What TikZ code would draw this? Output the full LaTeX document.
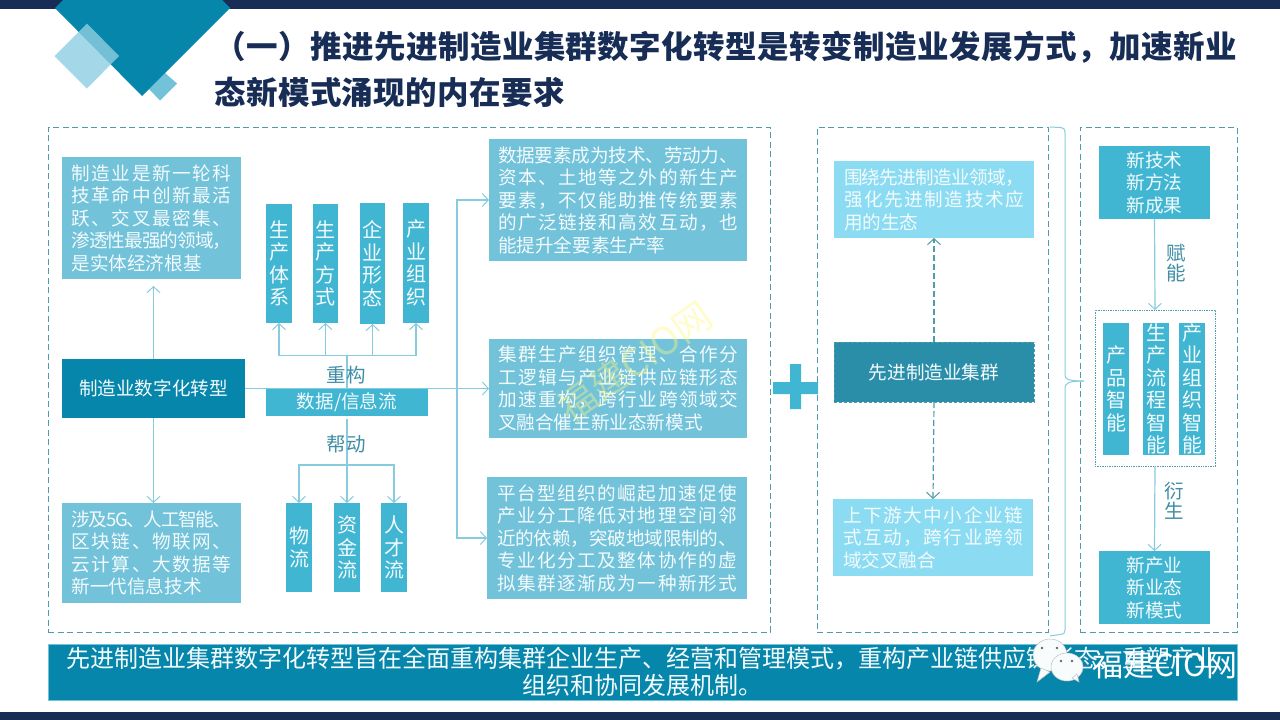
\documentclass[tikz,border=0pt]{standalone}
\usepackage{fontspec}
\setmainfont{Noto Sans CJK SC}
\usetikzlibrary{arrows.meta}
\definecolor{navy}{HTML}{172D55}
\definecolor{deep}{HTML}{0786AB}
\definecolor{soft}{HTML}{72C2DA}
\definecolor{mid}{HTML}{41B6D2}
\definecolor{pale}{HTML}{8BDCF2}
\definecolor{teal}{HTML}{2B8EA9}
\definecolor{wire}{HTML}{86CCDE}
\definecolor{dashc}{HTML}{4F9DAB}
\definecolor{lab}{HTML}{3F8EA5}
\definecolor{ink}{HTML}{F3FBFD}
\makeatletter
\def\jlx#1#2{#1\ifx#2\relax\expandafter\@gobble\else\hskip 0pt plus 1fil minus 1fil\expandafter\jlx\fi#2}
\makeatother
\newcommand\jl[2]{\hbox to #1pt{\jlx#2\relax}}
\newcommand\bx[7]{\pgfmathsetmacro\bw{#4-#2}\pgfmathsetmacro\bh{#5-#3}\pgfmathsetmacro\cx{(#2+#4)/2}\pgfmathsetmacro\cy{(#3+#5)/2}\node[#6,minimum width=\bw pt,minimum height=\bh pt] (#1) at (\cx,\cy) {#7};}
\tikzset{
 box/.style={inner sep=0pt,outer sep=0pt,align=left,text=ink,font=\fontsize{18.6}{22.5}\selectfont},
 softbox/.style={box,fill=soft},
 deepbox/.style={box,fill=deep,align=center},
 midbox/.style={box,fill=mid,align=center},
 tallbox/.style={midbox,font=\fontsize{20}{22.5}\selectfont},
 palebox/.style={box,fill=pale},
 frame/.style={box,draw=dashc,line width=1pt,dash pattern=on 6pt off 3.5pt},
 link/.style={draw=wire,line width=1.2pt},
 arrow/.style={link,-{Straight Barb[length=6pt,width=13pt,line width=1pt]}},
 dlink/.style={draw=dashc,line width=1.2pt,dash pattern=on 6pt off 3pt},
 darrow/.style={dlink,-{Straight Barb[length=6pt,width=13pt,line width=1pt]}},
 lbl/.style={inner sep=0pt,text=lab,align=center,font=\fontsize{19.5}{20.5}\selectfont},
}
\begin{document}
\begin{tikzpicture}[x=1pt,y=-1pt]
\useasboundingbox (0,0) rectangle (1280,720);
\fill[white] (0,0) rectangle (1280,720);
% bars and corner decoration
\fill[navy] (0,0) rectangle (1280,8.5);
\fill[navy] (0,711.5) rectangle (1280,720);
\fill[soft] (149,89)--(165,73)--(177,83.5)--(160,100.5)--cycle;
\fill[deep] (63,0)--(55,8)--(142,96)--(230,8)--(222,0)--cycle;
\fill[soft!80!white,fill opacity=.8] (54.5,56)--(87,23.5)--(119,56)--(87,88.5)--cycle;
% title
\node[anchor=west,inner sep=0pt,text=navy,font=\fontsize{31.5}{38}\bfseries\selectfont] (t1) at (214,47) {\jl{1023}{（一）推进先进制造业集群数字化转型是转变制造业发展方式，加速新业}};
\node[anchor=west,inner sep=0pt,text=navy,font=\fontsize{31.5}{38}\bfseries\selectfont] (t2) at (214,92) {\jl{351}{态新模式涌现的内在要求}};
% frames
\bx{fL}{48}{127}{770}{632}{frame}{}
\bx{fM}{817}{127}{1048}{632}{frame}{}
\bx{fR}{1080}{127}{1237}{632}{frame}{}
% left column
\bx{A}{62}{157}{241}{279}{softbox}{\jl{160}{制造业是新一轮科}\\\jl{160}{技革命中创新最活}\\\jl{160}{跃、交叉最密集、}\\\jl{160}{渗透性最强的领域，}\\是实体经济根基}
\bx{B}{62}{359}{245}{418}{deepbox}{制造业数字化转型}
\bx{C}{62}{503}{241}{603}{softbox}{\jl{160}{涉及5G、人工智能、}\\\jl{160}{区块链、物联网、}\\\jl{160}{云计算、大数据等}\\新一代信息技术}
% upper vertical boxes
\bx{v1}{266}{204}{292}{323}{tallbox}{生\\产\\体\\系}
\bx{v2}{313}{204}{338}{323}{tallbox}{生\\产\\方\\式}
\bx{v3}{360}{203}{385}{324}{tallbox}{企\\业\\形\\态}
\bx{v4}{403}{203}{429}{323}{tallbox}{产\\业\\组\\织}
% lower vertical boxes
\bx{f1}{286}{503}{312}{592}{tallbox}{物\\流}
\bx{f2}{334}{503}{360}{592}{tallbox}{资\\金\\流}
\bx{f3}{381}{503}{407}{592}{tallbox}{人\\才\\流}
% right column of left frame
\bx{R1}{489}{139}{747}{261}{softbox}{\jl{240}{数据要素成为技术、劳动力、}\\\jl{240}{资本、土地等之外的新生产}\\\jl{240}{要素，不仅能助推传统要素}\\\jl{240}{的广泛链接和高效互动，也}\\能提升全要素生产率}
\bx{R2}{489}{339}{747}{438}{softbox}{\jl{240}{集群生产组织管理、合作分}\\\jl{240}{工逻辑与产业链供应链形态}\\\jl{240}{加速重构，跨行业跨领域交}\\叉融合催生新业态新模式}
\bx{R3}{487}{477}{747}{599}{softbox}{\jl{240}{平台型组织的崛起加速促使}\\\jl{240}{产业分工降低对地理空间邻}\\\jl{240}{近的依赖，突破地域限制的、}\\\jl{240}{专业化分工及整体协作的虚}\\\jl{240}{拟集群逐渐成为一种新形式}}
% connectors left frame
\draw[arrow,shorten >=7pt] (B.north) -- (B.north |- A.south);
\draw[arrow] (B.south) -- (B.south |- C.north);
\coordinate (bus) at (347,355.5);
\coordinate (bus2) at (347,465);
\coordinate (trunk) at (457,388.5);
\coordinate (stemtop) at (347,389);
\coordinate (stembot) at (347,419);
\draw[link] (stemtop) -- (bus);
\draw[arrow] (bus) -| (v1.south);
\draw[arrow] (bus) -| (v2.south);
\draw[arrow] (bus) -| (v3.south);
\draw[arrow] (bus) -| (v4.south);
\draw[arrow] (B.east) -- (R2.west);
\draw[arrow] (trunk) |- (R1.west);
\draw[arrow] (trunk) |- (R3.west);
\draw[arrow] (stembot) -- (stembot |- f2.north);
\draw[arrow] (bus2) -| (f1.north);
\draw[arrow] (bus2) -| (f3.north);
\bx{data}{266}{389}{428}{416}{midbox}{数据/信息流}
\node[lbl] (lb1) at (346,375) {重构};
\node[lbl] (lb2) at (346,444) {帮动};
% plus
\fill[mid] (773,382)--(790,382)--(790,364)--(801,364)--(801,382)--(818,382)--(818,394)--(801,394)--(801,409)--(790,409)--(790,394)--(773,394)--cycle;
% middle frame
\bx{M1}{834}{161}{1034}{238}{palebox}{\jl{180}{围绕先进制造业领域，}\\\jl{180}{强化先进制造技术应}\\用的生态}
\bx{M2}{834}{342}{1034}{402}{deepbox,fill=teal,draw=dashc,line width=1pt,dash pattern=on 3pt off 2pt}{先进制造业集群}
\bx{M3}{833}{499}{1033}{576}{palebox}{\jl{180}{上下游大中小企业链}\\\jl{180}{式互动，跨行业跨领}\\域交叉融合}
\draw[darrow] (M2.north) -- (M1.south);
\draw[darrow] (M2.south) -- (M3.north);
% brace
\coordinate (b1) at (1050,127);
\coordinate (b2) at (1084,381);
\coordinate (b3) at (1050,636);
\draw[link,line width=1pt] (b1) -- (1060,127.5) .. controls (1064,128) and (1065,129) .. (1065,133) -- (1065,375) .. controls (1065,379) and (1067,381) .. (b2);
\draw[link,line width=1pt] (b2) .. controls (1067,381) and (1065,384) .. (1065,388) -- (1065,630) .. controls (1065,633) and (1064,634) .. (1060,634.5) -- (b3);
% right frame
\bx{N1}{1099}{146}{1210}{219}{midbox}{新技术\\新方法\\新成果}
\bx{G}{1095}{310}{1215}{466}{box,draw=dashc,line width=1pt,dash pattern=on 1.4pt off 1pt}{}
\bx{g1}{1103}{323}{1129}{455}{tallbox}{产\\品\\智\\能}
\bx{g2}{1143}{323}{1169}{455}{tallbox}{生\\产\\流\\程\\智\\能}
\bx{g3}{1179}{323}{1205}{455}{tallbox}{产\\业\\组\\织\\智\\能}
\bx{N2}{1099}{551}{1210}{624}{midbox}{新产业\\新业态\\新模式}
\draw[arrow] (N1.south) -- (G.north);
\draw[arrow] (G.south) -- (N2.north);
\node[lbl] (lb3) at (1176,263) {赋\\能};
\node[lbl] (lb4) at (1174,501) {衍\\生};
% bottom banner
\bx{S}{48}{644}{1237}{700}{deepbox,draw=soft,line width=.8pt,font=\fontsize{24}{27}\selectfont}{先进制造业集群数字化转型旨在全面重构集群企业生产、经营和管理模式，重构产业链供应链形态，重塑产业\\组织和协同发展机制。}
% watermarks
\node[rotate=35,text=yellow!50!white,opacity=.4,inner sep=0pt,font=\fontsize{38}{38}\selectfont] (wm1) at (635,362) {福建CIO网};
\begin{scope}[draw=black!25,fill=white!95!soft,line width=.5pt]
\filldraw (1050,655) ellipse (17 and 16);
\filldraw (1041,668)--(1037,682)--(1050,672)--cycle;
\filldraw (1067,667) ellipse (16 and 14);
\filldraw (1072,678)--(1079,682)--(1077,674)--cycle;
\end{scope}
\fill[black!60] (1042,648) circle (1.3) (1057,648) circle (1.3) (1061,661) circle (1.3) (1072,661) circle (1.3);
\node[anchor=west,inner sep=0pt,text=white,font=\fontsize{31}{31}\selectfont] (wm2) at (1092,665) {福建CIO网};
\end{tikzpicture}
\end{document}
